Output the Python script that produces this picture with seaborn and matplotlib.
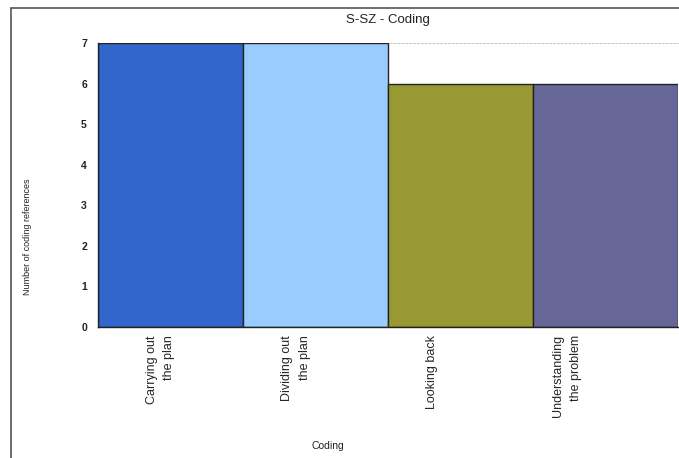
import matplotlib
matplotlib.use("Agg")
import matplotlib.pyplot as plt
import seaborn as sns
import pandas as pd
from matplotlib.lines import Line2D

categories = ["Carrying out\nthe plan", "Dividing out\nthe plan", "Looking back", "Understanding\nthe problem"]
values = [7, 7, 6, 6]
colors = ["#3366CC", "#99CCFF", "#999933", "#666699"]
yticks = [0, 1, 2, 3, 4, 5, 6, 7]

sns.set_style("white")
plt.rcParams["font.family"] = ["Liberation Sans", "DejaVu Sans"]

W, H = 679, 458
fig = plt.figure(figsize=(W / 100, H / 100), dpi=100)
ax = fig.add_axes([98 / W, (H - 327) / H, (678 - 98) / W, (327 - 43) / H])

df = pd.DataFrame({"cat": categories, "val": values})
sns.barplot(data=df, x="cat", y="val", hue="cat", palette=colors, width=1.0,
            saturation=1.0, edgecolor="#222222", linewidth=1.0, legend=False, ax=ax)
for p in ax.patches:
    p.set_zorder(3)

ax.set_xlim(-0.5, 3.5)
ax.set_ylim(0, 7)
ax.set_yticks(yticks)
ax.set_yticklabels([str(v) for v in yticks], fontsize=7.5, fontweight="bold", color="#222222")
ax.tick_params(axis="both", length=0, pad=8)
# labels in the original are drawn slightly left of the bar centres
ax.set_xticks([i * 0.935 - 0.07 for i in range(len(categories))])
ax.set_xticklabels(categories, rotation=90, fontsize=9, va="top", ha="center",
                   multialignment="right", linespacing=1.6)
ax.tick_params(axis="x", pad=6)
ax.set_xlabel("")
ax.set_ylabel("")

for s in ["left", "bottom"]:
    ax.spines[s].set_color("#222222")
    ax.spines[s].set_linewidth(1.0)
    ax.spines[s].set_zorder(4)
ax.spines["right"].set_visible(False)
ax.spines["top"].set_color("#c8c8c8")
ax.spines["top"].set_linestyle((0, (2, 2)))
ax.spines["top"].set_linewidth(0.7)
ax.spines["top"].set_zorder(1)

fig.text(388 / W, 1 - 20 / H, "S-SZ - Coding", ha="center", va="center", fontsize=9.5, color="#222222")
fig.text(328 / W, 1 - 446 / H, "Coding", ha="center", va="center", fontsize=7.5, color="#222222")
fig.text(28 / W, 1 - 237 / H, "Number of coding references", ha="center", va="center",
         rotation=90, fontsize=6.5, color="#222222")

fig.add_artist(Line2D([11 / W, 11 / W], [1 - 8 / H, 0], transform=fig.transFigure, color="#555555", lw=1.2))
fig.add_artist(Line2D([11 / W, 1], [1 - 8 / H, 1 - 8 / H], transform=fig.transFigure, color="#555555", lw=1.2))

fig.savefig("out.png", dpi=100)
